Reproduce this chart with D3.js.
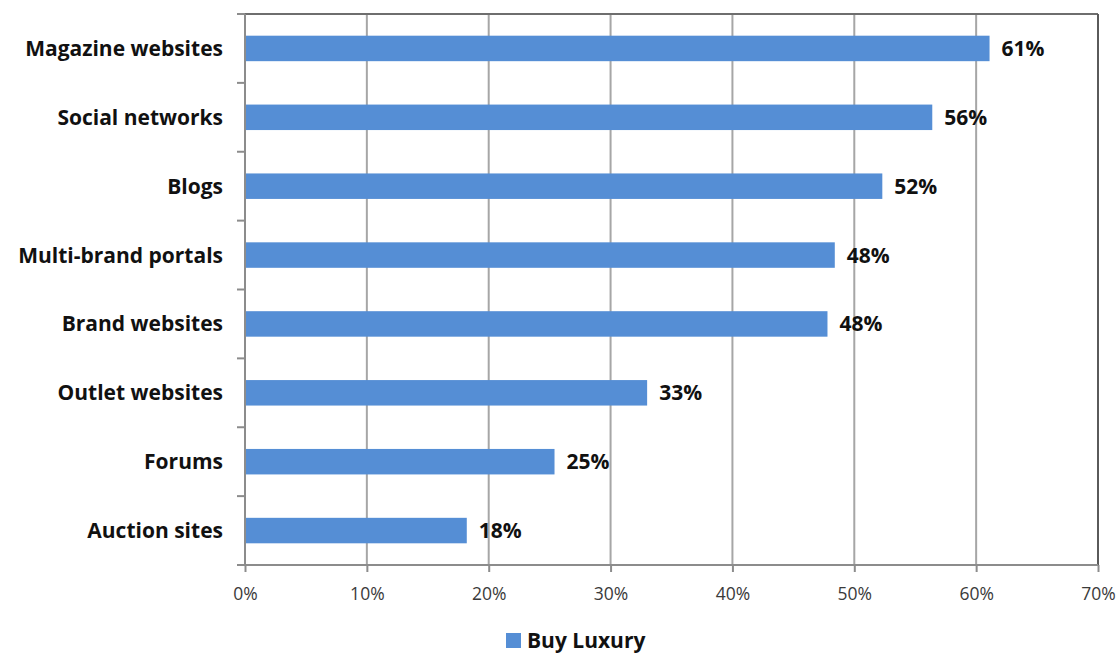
<!DOCTYPE html>
<html>
<head>
<meta charset="utf-8">
<script src="https://cdn.jsdelivr.net/npm/d3@7"></script>
<style>
  html, body { margin: 0; padding: 0; background: #fff; }
  svg text { font-family: "Open Sans", Lato, sans-serif; }
</style>
</head>
<body>
<svg id="chart" width="1119" height="653"></svg>
<script>
// Share of respondents by online channel (Buy Luxury)
const categories = [
  "Magazine websites", "Social networks", "Blogs", "Multi-brand portals",
  "Brand websites", "Outlet websites", "Forums", "Auction sites"
];
const buyLuxury = [0.611, 0.564, 0.523, 0.484, 0.478, 0.330, 0.254, 0.182];
const xTicks = [0, 0.1, 0.2, 0.3, 0.4, 0.5, 0.6, 0.7];
const seriesName = "Buy Luxury";

const svg = d3.select("#chart");
const margin = { top: 14, right: 21, bottom: 88, left: 245 };
const W = 1119, H = 653;
const iw = W - margin.left - margin.right;
const ih = H - margin.top - margin.bottom;

const g = svg.append("g").attr("transform", `translate(${margin.left},${margin.top})`);

const x = d3.scaleLinear().domain([0, 0.7]).range([0, iw]);
const y = d3.scaleBand().domain(categories).range([0, ih]).paddingInner(0.63).paddingOuter(0.315);

// vertical gridlines
g.append("g")
  .selectAll("line")
  .data(xTicks.slice(1))
  .join("line")
  .attr("x1", d => x(d)).attr("x2", d => x(d))
  .attr("y1", 0).attr("y2", ih)
  .attr("stroke", "#a6a6a6").attr("stroke-width", 2);

// plot frame: top and right
g.append("line").attr("x1", -8).attr("x2", iw).attr("y1", 0).attr("y2", 0)
  .attr("stroke", "#6e6e6e").attr("stroke-width", 2);
g.append("line").attr("x1", iw).attr("x2", iw).attr("y1", 0).attr("y2", ih)
  .attr("stroke", "#5a5a5a").attr("stroke-width", 2);

// bars
g.append("g")
  .selectAll("rect")
  .data(categories)
  .join("rect")
  .attr("x", 0)
  .attr("y", d => y(d))
  .attr("height", y.bandwidth())
  .attr("width", (d, i) => x(buyLuxury[i]))
  .attr("fill", "#558ed5");

// value labels
g.append("g")
  .selectAll("text")
  .data(categories)
  .join("text")
  .attr("x", (d, i) => x(buyLuxury[i]) + 12)
  .attr("y", d => y(d) + y.bandwidth() / 2)
  .attr("dy", "0.36em")
  .attr("font-size", 21)
  .attr("font-weight", 700)
  .attr("fill", "#111")
  .text((d, i) => d3.format(".0%")(buyLuxury[i]));

// category axis (left) with separator ticks between bands
const yAxisG = g.append("g");
yAxisG.append("line").attr("x1", 0).attr("x2", 0).attr("y1", 0).attr("y2", ih)
  .attr("stroke", "#8c8c8c").attr("stroke-width", 2);
const step = y.step();
yAxisG.selectAll("line.sep")
  .data(d3.range(categories.length + 1))
  .join("line").attr("class", "sep")
  .attr("x1", -8).attr("x2", 0)
  .attr("y1", i => i * step).attr("y2", i => i * step)
  .attr("stroke", "#8c8c8c").attr("stroke-width", 2);
yAxisG.selectAll("text")
  .data(categories)
  .join("text")
  .attr("x", -22)
  .attr("y", d => y(d) + y.bandwidth() / 2)
  .attr("dy", "0.36em")
  .attr("text-anchor", "end")
  .attr("font-size", 21)
  .attr("font-weight", 700)
  .attr("fill", "#111")
  .text(d => d);

// value axis (bottom)
const xAxis = d3.axisBottom(x).tickValues(xTicks).tickFormat(d3.format(".0%")).tickSize(7).tickPadding(16);
const xAxisG = g.append("g").attr("transform", `translate(0,${ih})`).call(xAxis);
xAxisG.select(".domain").attr("stroke", "#8c8c8c").attr("stroke-width", 2).attr("d", `M-8,0H${iw}`);
xAxisG.selectAll(".tick line").attr("stroke", "#8c8c8c").attr("stroke-width", 2);
xAxisG.selectAll(".tick text")
  .attr("font-family", "'Open Sans', Lato, sans-serif")
  .attr("font-size", 17.5)
  .attr("fill", "#3a3a3a");

// legend
const legend = svg.append("g").attr("transform", "translate(506,633)");
legend.append("rect").attr("width", 15).attr("height", 15).attr("fill", "#558ed5");
legend.append("text")
  .attr("x", 21).attr("y", 7.5).attr("dy", "0.36em")
  .attr("font-size", 21).attr("font-weight", 700).attr("fill", "#111")
  .text(seriesName);
</script>
</body>
</html>
